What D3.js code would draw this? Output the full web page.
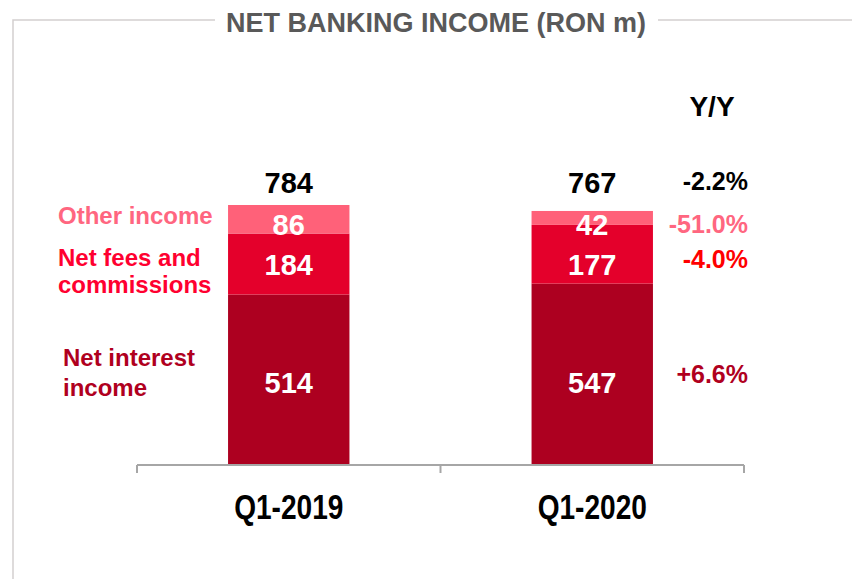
<!DOCTYPE html>
<html>
<head>
<meta charset="utf-8">
<script src="https://cdn.jsdelivr.net/npm/d3@7"></script>
<style>
  html, body { margin: 0; padding: 0; background: #fff; }
  .wide { font-family: "Liberation Sans", Arial, sans-serif; font-weight: bold; }
</style>
</head>
<body>
<div id="chart"></div>
<script>
// data
const quarters = ['Q1-2019', 'Q1-2020']
const seriesNames = ['Net interest income', 'Net fees and commissions', 'Other income']
const netInterest = [514, 547]
const netFees = [184, 177]
const otherIncome = [86, 42]
const totals = [784, 767]
const yoyLabels = ['-2.2%', '-51.0%', '-4.0%', '+6.6%']

const width = 852,
  height = 579

const colors = ['#AD0020', '#E4002B', '#FF6179']
const labelColors = ['#B0001E', '#FF0030', '#FF6680']

const svg = d3.select('#chart')
  .append('svg')
  .attr('width', width)
  .attr('height', height)

// frame with title
svg.append('path')
  .attr('d', 'M215,20 H13 V579 M658,20 H852')
  .attr('fill', 'none')
  .attr('stroke', '#D3D0D0')
  .attr('stroke-width', 1.5)

svg.append('text')
  .attr('class', 'wide')
  .attr('x', 436)
  .attr('y', 32)
  .attr('text-anchor', 'middle')
  .attr('font-size', 27)
  .attr('fill', '#595959')
  .text('NET BANKING INCOME (RON m)')

// scales
const x = d3.scaleBand()
  .domain(quarters)
  .range([137, 744])
  .paddingInner(0.6)
  .paddingOuter(0.3)

const y = d3.scaleLinear()
  .domain([0, 784])
  .range([465, 205])

const rows = quarters.map((q, i) => ({
  q: q,
  ni: netInterest[i],
  fees: netFees[i],
  other: otherIncome[i]
}))
const stack = d3.stack().keys(['ni', 'fees', 'other'])(rows)

const layers = svg.selectAll('g.layer')
  .data(stack)
  .enter()
  .append('g')
  .attr('class', 'layer')
  .attr('fill', (d, i) => colors[i])

layers.selectAll('rect')
  .data(d => d)
  .enter()
  .append('rect')
  .attr('x', d => x(d.data.q))
  .attr('y', d => y(d[1]))
  .attr('width', x.bandwidth())
  .attr('height', d => y(d[0]) - y(d[1]))

// values inside bars, one row per layer
layers.each(function (layer) {
  const midY = d3.mean(layer, d => (y(d[0]) + y(d[1])) / 2)
  d3.select(this).selectAll('text')
    .data(layer)
    .enter()
    .append('text')
    .attr('class', 'wide')
    .attr('x', d => x(d.data.q) + x.bandwidth() / 2)
    .attr('y', midY + 16)
    .attr('text-anchor', 'middle')
    .attr('font-size', 29)
    .attr('fill', '#fff')
    .text(d => d[1] - d[0])
})

// totals
svg.selectAll('text.total')
  .data(totals)
  .enter()
  .append('text')
  .attr('class', 'total wide')
  .attr('x', (d, i) => x(quarters[i]) + x.bandwidth() / 2)
  .attr('y', y(d3.max(totals)) - 12)
  .attr('text-anchor', 'middle')
  .attr('font-size', 29)
  .attr('fill', '#000')
  .text(d => d)

// axis
const axisY = 465
const bounds = [x.range()[0], (x.range()[0] + x.range()[1]) / 2, x.range()[1]]
svg.append('line')
  .attr('x1', bounds[0]).attr('x2', bounds[2])
  .attr('y1', axisY).attr('y2', axisY)
  .attr('stroke', '#A6A6A6')
  .attr('stroke-width', 2)
svg.selectAll('line.tick')
  .data(bounds)
  .enter()
  .append('line')
  .attr('class', 'tick')
  .attr('x1', d => d).attr('x2', d => d)
  .attr('y1', axisY).attr('y2', axisY + 8)
  .attr('stroke', '#A6A6A6')
  .attr('stroke-width', 2)

const xAxis = d3.axisBottom(x).tickSize(0).tickPadding(0)
const gx = svg.append('g')
  .attr('transform', `translate(0, ${axisY})`)
  .call(xAxis)
gx.select('.domain').remove()
// condensed look: squeeze the tick labels horizontally
gx.selectAll('text')
  .attr('class', 'wide')
  .attr('dy', null)
  .attr('y', null)
  .attr('transform', 'translate(0, 54) scale(0.78, 1)')
  .attr('font-size', 36)
  .attr('font-family', null)
  .attr('fill', '#000')

// series labels on the left
const leftLabels = [
  { lines: ['Net interest', 'income'], y: [366, 396], c: labelColors[0], x: 63 },
  { lines: ['Net fees and', 'commissions'], y: [266, 293], c: labelColors[1], x: 58 },
  { lines: ['Other income'], y: [224], c: labelColors[2], x: 58 }
]
leftLabels.forEach((l, i) => {
  l.lines.forEach((t, j) => {
    svg.append('text')
      .attr('class', 'wide')
      .attr('x', l.x)
      .attr('y', l.y[j])
      .attr('font-size', 24)
      .attr('fill', l.c)
      .text(t)
  })
})

// Y/Y column
svg.append('text')
  .attr('class', 'wide')
  .attr('x', 712)
  .attr('y', 116)
  .attr('text-anchor', 'middle')
  .attr('font-size', 28)
  .attr('fill', '#000')
  .text('Y/Y')

const yoyY = [190, 233, 268, 383]
const yoyColors = ['#000', '#FF6680', '#FF0000', '#B0001E']
svg.selectAll('text.yoy')
  .data(yoyLabels)
  .enter()
  .append('text')
  .attr('class', 'yoy wide')
  .attr('x', 748)
  .attr('y', (d, i) => yoyY[i])
  .attr('text-anchor', 'end')
  .attr('font-size', 25)
  .attr('fill', (d, i) => yoyColors[i])
  .text(d => d)
</script>
</body>
</html>
